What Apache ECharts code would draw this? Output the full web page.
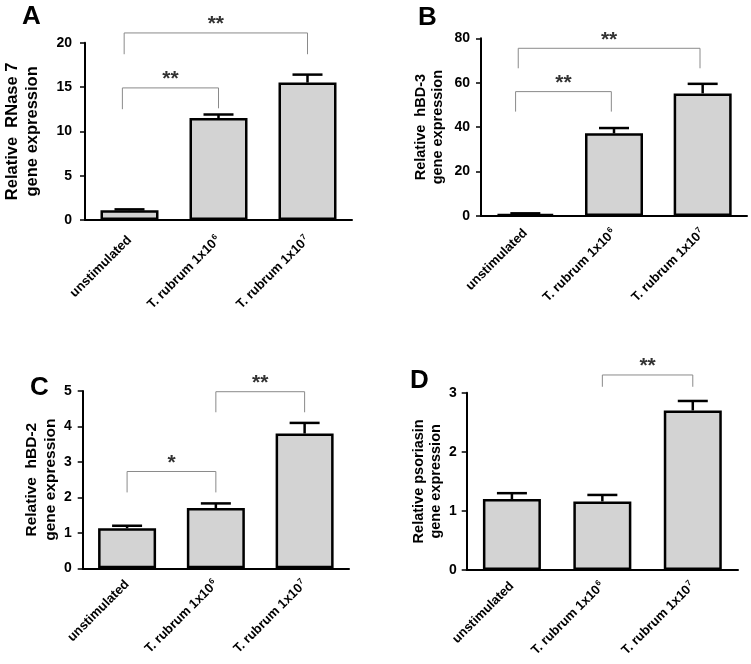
<!DOCTYPE html>
<html>
<head>
<meta charset="utf-8">
<script src="https://cdn.jsdelivr.net/npm/echarts@6/dist/echarts.min.js"></script>
<style>html,body{margin:0;padding:0;background:#fff}#c{width:751px;height:664px}</style>
</head>
<body>
<div id="c"></div>
<script>
// ---- data ----
const categories = ['unstimulated', 'T. rubrum 1x10^6', 'T. rubrum 1x10^7'];

const rnase7Mean = [1.1, 11.5, 15.5];
const rnase7Upper = [1.2, 11.9, 16.4];
const hbd3Mean = [1.0, 37.2, 55.2];
const hbd3Upper = [1.2, 39.6, 59.5];
const hbd2Mean = [1.13, 1.7, 3.8];
const hbd2Upper = [1.2, 1.83, 4.1];
const psoriasinMean = [1.2, 1.16, 2.7];
const psoriasinUpper = [1.3, 1.27, 2.86];

const yMaxA = 20, yStepA = 5;
const yMaxB = 80, yStepB = 20;
const yMaxC = 5, yStepC = 1;
const yMaxD = 3, yStepD = 1;

// brackets: [fromCategory, toCategory, barY, leftLegEndY, rightLegEndY]
const bracketsA = [[0, 1, 14.9, 12.5, 12.6], [0, 2, 21.1, 18.7, 18.7]];
const bracketsB = [[0, 1, 56, 47, 47], [0, 2, 75.5, 66.5, 66.5]];
const bracketsC = [[0, 1, 2.73, 2.14, 2.14], [1, 2, 4.98, 4.4, 4.4]];
const bracketsD = [[1, 2, 3.30, 3.10, 3.10]];
const starsA = ['**', '**'];
const starsB = ['**', '**'];
const starsC = ['*', '**'];
const starsD = ['**'];

const titleA = 'Relative  RNase 7\ngene expression';
const titleB = 'Relative  hBD-3\ngene expression';
const titleC = 'Relative  hBD-2\ngene expression';
const titleD = 'Relative psoriasin\ngene expression';
const panelLetters = ['A', 'B', 'C', 'D'];

// ---- layout / style ----
const FONT = '"Liberation Sans", Arial, sans-serif';
const panels = [
  {grid: {left: 85, top: 42.7, width: 267, height: 177.3}, max: yMaxA, step: yStepA, mean: rnase7Mean, upper: rnase7Upper,
   br: bracketsA, stars: starsA, offs: [[-0.08, 0], [-0.06, 0]], title: titleA, tsize: 16.5, tline: 20, gap: 43, lblMargin: 13, xMargin: 18, letter: [22, 17]},
  {grid: {left: 481, top: 38.3, width: 266, height: 177.7}, max: yMaxB, step: yStepB, mean: hbd3Mean, upper: hbd3Upper,
   br: bracketsB, stars: starsB, offs: [[-0.11, -0.03], [-0.08, -0.03]], title: titleB, tsize: 14.5, tline: 17.5, gap: 34, lblMargin: 11, xMargin: 15, letter: [418, 18]},
  {grid: {left: 82.7, top: 391, width: 266.3, height: 177.3}, max: yMaxC, step: yStepC, mean: hbd2Mean, upper: hbd2Upper,
   br: bracketsC, stars: starsC, offs: [[0, 0], [0, 0]], title: titleC, tsize: 15.5, tline: 19, gap: 21, lblMargin: 11, xMargin: 14, letter: [30, 388]},
  {grid: {left: 466.7, top: 392.7, width: 271.3, height: 177.3}, max: yMaxD, step: yStepD, mean: psoriasinMean, upper: psoriasinUpper,
   br: bracketsD, stars: starsD, offs: [[0, 0]], title: titleD, tsize: 14.5, tline: 17.5, gap: 19, lblMargin: 10, xMargin: 14, letter: [410, 381]}
];

const grids = [], xAxes = [], yAxes = [], series = [], graphics = [];
panels.forEach((p, i) => {
  grids.push(Object.assign({containLabel: false}, p.grid));
  xAxes.push({
    type: 'category', gridIndex: i, data: categories,
    axisLine: {lineStyle: {color: '#000', width: 2}},
    axisTick: {show: false},
    axisLabel: {
      rotate: 45, margin: p.xMargin, interval: 0,
      formatter: v => { const s = v.split('^'); return s.length > 1 ? '{b|' + s[0] + '}{s|' + s[1] + '}' : '{b|' + v + '}'; },
      rich: {
        b: {fontFamily: FONT, fontSize: 13, fontWeight: 'bold', color: '#000'},
        s: {fontFamily: FONT, fontSize: 8, fontWeight: 'bold', color: '#000', verticalAlign: 'top', padding: [0, 0, 7, 1]}
      }
    }
  });
  yAxes.push({
    type: 'value', gridIndex: i, min: 0, max: p.max, interval: p.step,
    splitLine: {show: false},
    axisLine: {show: true, lineStyle: {color: '#000', width: 2}},
    axisTick: {show: true, length: 5, lineStyle: {color: '#000', width: 1.5}},
    axisLabel: {fontFamily: FONT, fontSize: 14, fontWeight: 'bold', color: '#000', margin: p.lblMargin},
    name: p.title, nameLocation: 'middle', nameGap: p.gap, nameRotate: 90,
    nameTextStyle: {fontFamily: FONT, fontSize: p.tsize, fontWeight: 'bold', color: '#000', lineHeight: p.tline}
  });
  series.push({
    type: 'bar', xAxisIndex: i, yAxisIndex: i, data: p.mean, barWidth: 58,
    itemStyle: {color: '#d3d3d3', borderColor: '#000', borderWidth: 2.5}, z: 2
  });
  series.push({
    type: 'custom', xAxisIndex: i, yAxisIndex: i, z: 3, clip: false,
    data: p.mean.map((m, k) => [k, m, p.upper[k]]),
    encode: {x: 0, y: [1, 2]},
    renderItem: (params, api) => {
      const b = api.coord([api.value(0), api.value(1)]);
      const t = api.coord([api.value(0), api.value(2)]);
      const st = {stroke: '#000', lineWidth: 2.5};
      return {type: 'group', children: [
        {type: 'line', shape: {x1: b[0], y1: b[1], x2: t[0], y2: t[1]}, style: st},
        {type: 'line', shape: {x1: t[0] - 15, y1: t[1], x2: t[0] + 15, y2: t[1]}, style: st}
      ]};
    }
  });
  series.push({
    type: 'custom', xAxisIndex: i, yAxisIndex: i, z: 4, clip: false,
    data: p.br, encode: {x: [0, 1], y: [2, 3, 4]},
    renderItem: (params, api) => {
      const bw = api.size([1, 0])[0];
      const o = p.offs[params.dataIndex];
      const a = api.coord([api.value(0), api.value(2)]);
      const c = api.coord([api.value(1), api.value(2)]);
      const l = api.coord([api.value(0), api.value(3)]);
      const r = api.coord([api.value(1), api.value(4)]);
      const x1 = a[0] + o[0] * bw, x2 = c[0] + o[1] * bw;
      return {type: 'group', children: [
        {type: 'polyline', shape: {points: [[x1, l[1]], [x1, a[1]], [x2, a[1]], [x2, r[1]]]},
         style: {stroke: '#8a8a8a', lineWidth: 1, fill: null}},
        {type: 'text', style: {x: (x1 + x2) / 2, y: a[1] + 2, text: p.stars[params.dataIndex],
          fill: '#333', font: 'bold 21px ' + FONT, align: 'center', verticalAlign: 'bottom'}}
      ]};
    }
  });
  graphics.push({type: 'text', left: p.letter[0], top: p.letter[1] - 13,
    style: {text: panelLetters[i], font: 'bold 26px ' + FONT, fill: '#000'}});
});

const chart = echarts.init(document.getElementById('c'), null, {renderer: 'canvas'});
chart.setOption({
  animation: false,
  backgroundColor: '#fff',
  grid: grids, xAxis: xAxes, yAxis: yAxes, series: series, graphic: graphics
});
</script>
</body>
</html>
